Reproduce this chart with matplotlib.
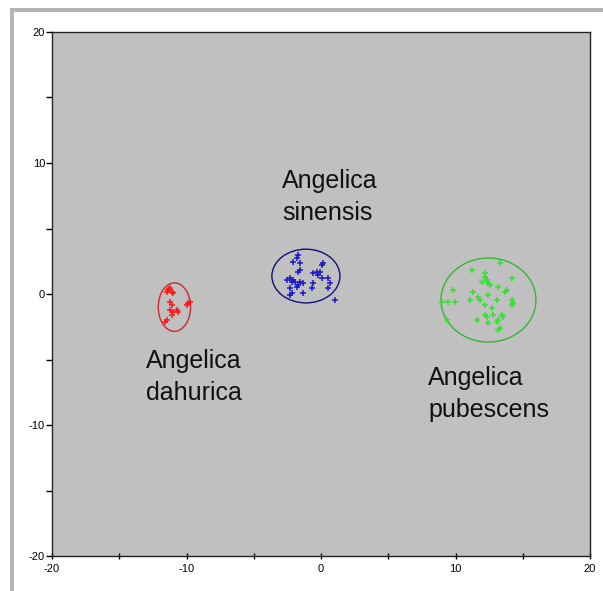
import matplotlib
matplotlib.use("Agg")
import matplotlib.pyplot as plt
from matplotlib.patches import Ellipse, Rectangle

plt.rcParams['font.family'] = ['Liberation Sans', 'DejaVu Sans']
plt.rcParams['axes.unicode_minus'] = False

# score points
red_x = [-11.38, -11.08, -11.45, -11.0, -11.23, -11.23, -11.08, -11.23, -11.0, -10.71,
         -10.63, -9.89, -9.96, -9.74, -11.45, -11.6, -11.08, -11.3]
red_y = [0.31, 0.15, 0.15, 0.08, 0.46, -0.61, -0.84, -1.22, -1.37, -1.22,
         -1.37, -0.69, -0.84, -0.61, -1.98, -2.14, -1.6, 0.4]

blue_x = [-1.71, -1.78, -2.08, -1.56, -1.56, -1.71, 0.07, 0.15, -0.59, -0.30, -0.07, -0.22,
          0.07, 0.52, -2.30, -2.53, -2.16, -1.93, -2.08, -1.56, -1.34, -1.71, -1.78, -2.30,
          -2.16, -2.30, -0.59, -0.67, -1.34, 0.67, 0.52, 1.04]
blue_y = [2.98, 2.75, 2.44, 2.37, 1.83, 1.68, 2.21, 2.37, 1.60, 1.68, 1.68, 1.45,
          1.22, 1.22, 1.22, 1.07, 0.92, 0.92, 1.07, 0.92, 0.84, 0.69, 0.53, 0.46,
          0.08, -0.08, 0.84, 0.46, 0.08, 0.84, 0.46, -0.46]

green_x = [13.31, 11.23, 12.19, 12.19, 14.20, 12.34, 12.42, 12.57, 11.97, 13.16, 13.83, 13.68,
           9.81, 9.96, 11.30, 11.67, 11.82, 12.42, 13.09, 11.08, 9.00, 9.44, 14.20, 14.28,
           14.20, 12.19, 12.71, 12.19, 12.34, 12.79, 13.46, 13.53, 13.16, 13.09, 11.60,
           12.42, 13.31, 13.16, 9.37]
green_y = [2.37, 1.83, 1.60, 1.30, 1.22, 1.07, 0.84, 0.69, 0.92, 0.53, 0.31, 0.15,
           0.31, -0.61, 0.15, -0.23, -0.46, -0.08, -0.46, -0.46, -0.61, -0.61, -0.46, -0.69,
           -0.84, -0.84, -1.07, -1.60, -1.76, -1.60, -1.60, -1.76, -1.98, -2.14, -1.98,
           -2.21, -2.60, -2.75, -1.98]

# confidence ellipses: centre x, centre y, width, height
ell_red = (-10.9, -1.0, 2.4, 3.7)
ell_blue = (-1.12, 1.37, 5.06, 4.1)
ell_green = (12.45, -0.46, 7.06, 6.41)

labels = ["Angelica\ndahurica", "Angelica\nsinensis", "Angelica\npubescens"]
label_x = [-13.0, -2.9, 7.96]
label_y = [-8.1, 5.65, -9.4]   # baseline of the second line

fig = plt.figure(figsize=(6.03, 5.91), dpi=100)
fig.patch.set_facecolor('white')
ax = fig.add_axes([52/603, 35/591, 538/603, 524/591])
ax.set_facecolor('#c0c0c0')

for xs, ys, ell, pc, ec in [(red_x, red_y, ell_red, '#ff1a1a', '#cc2a2a'),
                            (blue_x, blue_y, ell_blue, '#1a1acc', '#101080'),
                            (green_x, green_y, ell_green, '#33e033', '#33b833')]:
    ax.plot(xs, ys, '+', color=pc, markersize=5, markeredgewidth=1.1)
    ax.add_patch(Ellipse((ell[0], ell[1]), ell[2], ell[3], fill=False,
                         edgecolor=ec, linewidth=1))

for t, x, y in zip(labels, label_x, label_y):
    ax.text(x, y, t, fontsize=18, ha='left', va='baseline', linespacing=1.42, color='#111111')

ax.set_xlim(-20, 20)
ax.set_ylim(-20, 20)
ax.set_xticks([-20, -10, 0, 10, 20])
ax.set_xticks([-15, -5, 5, 15], minor=True)
ax.set_yticks([-20, -10, 0, 10, 20])
ax.set_yticks([-15, -5, 5, 15], minor=True)
ax.tick_params(axis='x', which='both', direction='inout', length=5, width=1, labelsize=8, pad=3)
ax.tick_params(axis='y', which='both', direction='out', length=4, width=1, labelsize=8, pad=1)
for s in ax.spines.values():
    s.set_color('#222222')
    s.set_linewidth(1)

# window border on the left and top
fig.patches.append(Rectangle((10/603, 0), 4/603, 583/591, transform=fig.transFigure,
                             facecolor='#b4b4b4', edgecolor='none'))
fig.patches.append(Rectangle((10/603, 579/591), 593/603, 4/591, transform=fig.transFigure,
                             facecolor='#b4b4b4', edgecolor='none'))

fig.savefig('out.png', dpi=100)
